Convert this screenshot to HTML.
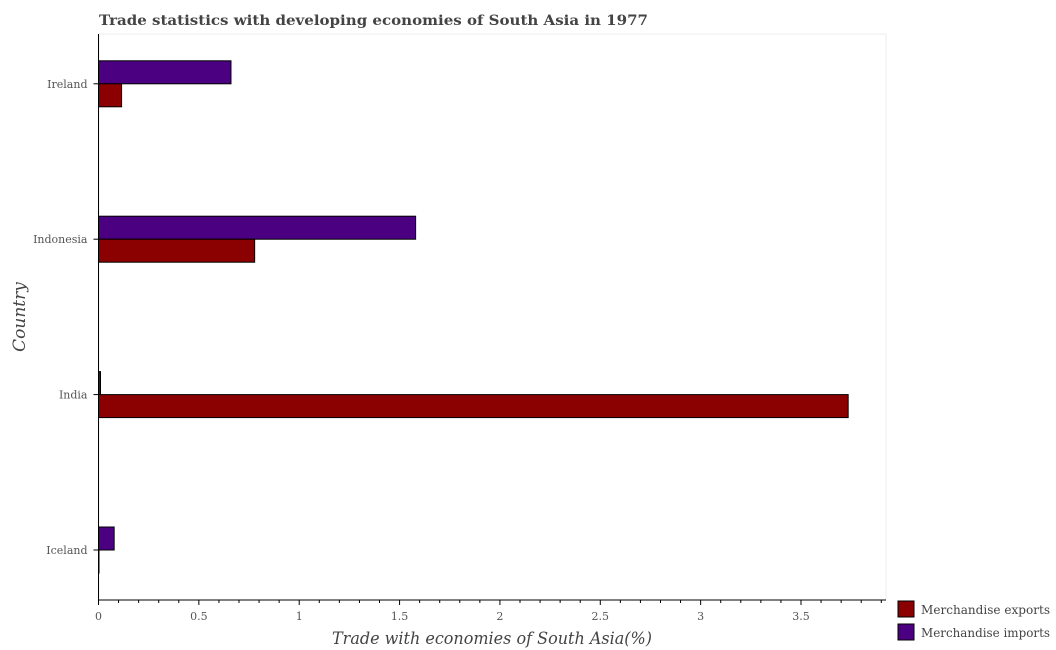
<!DOCTYPE html>
<html><head><meta charset="utf-8"><style>
body{margin:0;background:#fff;}
svg{display:block;font-family:"DejaVu Serif","Liberation Serif",serif;}
</style></head><body>
<svg id="chart" width="1056" height="650">
<text x="99" y="25" font-size="14" font-weight="bold" fill="#444" textLength="549" lengthAdjust="spacingAndGlyphs">Trade statistics with developing economies of South Asia in 1977</text>
<rect x="99" y="34" width="787" height="566" fill="#fff" stroke="#eee"/>
<g id="bars"></g>
<g id="axes"></g>
<text x="492" y="644" font-size="17" font-style="italic" fill="#444" text-anchor="middle" textLength="320" lengthAdjust="spacingAndGlyphs">Trade with economies of South Asia(%)</text>
<text transform="translate(25,317) rotate(-90)" font-size="17" font-style="italic" fill="#444" text-anchor="middle">Country</text>
<g>
<rect x="898" y="601" width="16" height="16" fill="#8b0000" stroke="#000"/>
<text x="921" y="614" font-size="12" fill="#444" textLength="129" lengthAdjust="spacingAndGlyphs">Merchandise exports</text>
<rect x="898" y="624" width="16" height="16" fill="#4b0082" stroke="#000"/>
<text x="921" y="637" font-size="12" fill="#444" textLength="129" lengthAdjust="spacingAndGlyphs">Merchandise imports</text>
</g>
</svg>
<script>
const categories = ["Iceland","India","Indonesia","Ireland"];
const exportsVals = [0.001, 3.735, 0.778, 0.115];
const importsVals = [0.078, 0.01, 1.58, 0.66];
const tickVals = [0,0.5,1,1.5,2,2.5,3,3.5];
const tickLabels = ["0","0.5","1","1.5","2","2.5","3","3.5"];

const NS="http://www.w3.org/2000/svg";
const x0=98.5, xPerUnit=(801-98.5)/3.5, axisY=600;
const xs=v=>x0+v*xPerUnit;
const yc=i=>550-i*155.4;
const barH=23;
const bars=document.getElementById('bars'), axes=document.getElementById('axes');
function mk(tag,attrs,parent){const e=document.createElementNS(NS,tag);for(const k in attrs)e.setAttribute(k,attrs[k]);parent.appendChild(e);return e;}
categories.forEach((c,i)=>{
  const cy=yc(i);
  const ri=mk('rect',{x:xs(0),y:cy-barH,width:Math.max(0.5,xs(importsVals[i])-xs(0)),height:barH,fill:'#4b0082',stroke:'#000','stroke-width':1},bars);
  
  
  const re=mk('rect',{x:xs(0),y:cy,width:Math.max(0.5,xs(exportsVals[i])-xs(0)),height:barH,fill:'#8b0000',stroke:'#000','stroke-width':1},bars);
  
  
  const tk=mk('line',{x1:x0-5,x2:x0,y1:cy,y2:cy,stroke:'#000'},axes);
  
  
  const t=mk('text',{x:x0-11,y:cy+4,'font-size':11,fill:'#555','text-anchor':'end'},axes);
  t.textContent=c;
  
  
});
const ya=mk('line',{x1:x0,x2:x0,y1:34,y2:axisY,stroke:'#000'},axes);


const xa=mk('line',{x1:x0,x2:886,y1:axisY,y2:axisY,stroke:'#000'},axes);


for(let k=0;k<=39;k++){
  const v=k*0.1;
  const m=mk('line',{x1:xs(v),x2:xs(v),y1:axisY,y2:axisY+(k%5===0?5:3),stroke:'#000'},axes);
  
  
}
tickVals.forEach((v,i)=>{
  const t=mk('text',{x:xs(v),y:axisY+20,'font-size':11,fill:'#555','text-anchor':'middle'},axes);
  t.textContent=tickLabels[i];
  
  
});
</script>
</body></html>
